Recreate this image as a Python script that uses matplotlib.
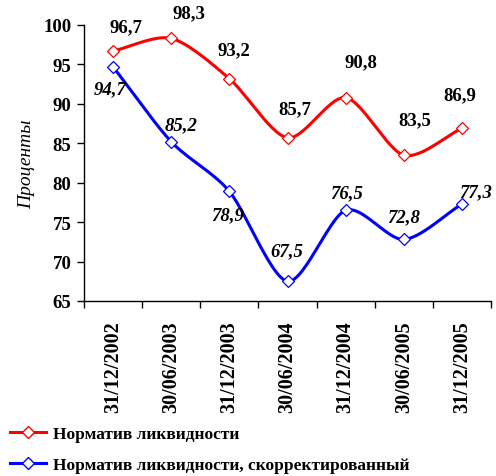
import numpy as np
import matplotlib
matplotlib.use("Agg")
import matplotlib.pyplot as plt
from matplotlib.lines import Line2D

# Data
dates = ["31/12/2002", "30/06/2003", "31/12/2003", "30/06/2004",
         "31/12/2004", "30/06/2005", "31/12/2005"]
norm = [96.7, 98.3, 93.2, 85.7, 90.8, 83.5, 86.9]
norm_adj = [94.7, 85.2, 78.9, 67.5, 76.5, 72.8, 77.3]
name_norm = "Норматив ликвидности"
name_adj = "Норматив ликвидности, скорректированный"

# label offsets in pixels (dx, dy)
off_norm = [(13, 24), (18, 26), (5, 29), (7, 29), (15, 36), (11, 35), (-2, 34)]
off_adj = [(-3, -22), (10, 17), (-2, -23), (-1, 31), (1, 18), (0, 23), (14, 12)]

plt.rcParams['font.family'] = ['Liberation Serif', 'DejaVu Serif']


def smooth(xs, ys, n=30, k=0.42):
    # cardinal spline through the points (smoothed line)
    xs = np.asarray(xs, float)
    ys = np.asarray(ys, float)
    px = np.concatenate([[2 * xs[0] - xs[1]], xs, [2 * xs[-1] - xs[-2]]])
    py = np.concatenate([[2 * ys[0] - ys[1]], ys, [2 * ys[-1] - ys[-2]]])
    outx, outy = [], []
    t = np.linspace(0, 1, n)
    h00 = 2 * t ** 3 - 3 * t ** 2 + 1
    h10 = t ** 3 - 2 * t ** 2 + t
    h01 = -2 * t ** 3 + 3 * t ** 2
    h11 = t ** 3 - t ** 2
    for i in range(1, len(px) - 2):
        for p, out in ((px, outx), (py, outy)):
            m1 = k * (p[i + 1] - p[i - 1])
            m2 = k * (p[i + 2] - p[i])
            out.extend(h00 * p[i] + h10 * m1 + h01 * p[i + 1] + h11 * m2)
    return outx, outy


fig = plt.figure(figsize=(4.96, 4.77), dpi=100)
ax = fig.add_axes([84 / 496, 1 - 302 / 477, 407 / 496, 276 / 477])

x = np.arange(len(dates))

for vals, col in ((norm, "#ff0000"), (norm_adj, "#0000ff")):
    sx, sy = smooth(x, vals)
    ax.plot(sx, sy, color=col, lw=2.2, zorder=2)
    ax.plot(x, vals, ls="none", marker="D", ms=6.5, mfc="white", mec=col, mew=0.9, zorder=3)

for xi, v, (dx, dy) in zip(x, norm, off_norm):
    ax.annotate(f"{v:.1f}".replace(".", ","), (xi, v), xytext=(dx, dy),
                textcoords="offset pixels", ha="center", va="center",
                fontsize=13.5, fontweight="bold")
for xi, v, (dx, dy) in zip(x, norm_adj, off_adj):
    ax.annotate(f"{v:.1f}".replace(".", ","), (xi, v), xytext=(dx, dy),
                textcoords="offset pixels", ha="center", va="center",
                fontsize=13.5, fontweight="bold", fontstyle="italic")

ax.set_xlim(-0.5, len(dates) - 0.5)
ax.set_ylim(65, 100)
ax.set_yticks(np.arange(65, 101, 5))
ax.set_yticklabels([str(v) for v in range(65, 101, 5)], fontsize=13.5, fontweight="bold")
ax.set_xticks(np.arange(-0.5, len(dates), 1))
ax.set_xticklabels([])
ax.set_xticks(x, minor=True)
ax.set_xticklabels(dates, minor=True, rotation=90, fontsize=14.5, fontweight="bold")
ax.tick_params(axis="x", which="minor", length=0, pad=14)
ax.tick_params(axis="both", which="major", length=5, width=1, color="black", direction="out")
ax.tick_params(axis="y", pad=4)

for s in ("top", "right"):
    ax.spines[s].set_visible(False)
for s in ("left", "bottom"):
    ax.spines[s].set_linewidth(1)
    ax.spines[s].set_color("black")

ax.set_ylabel("Проценты", fontsize=14, fontstyle="italic", labelpad=6)

handles = [
    Line2D([], [], color="#ff0000", lw=2.2, marker="D", ms=6.5, mfc="white", mec="#ff0000"),
    Line2D([], [], color="#0000ff", lw=2.2, marker="D", ms=6.5, mfc="white", mec="#0000ff"),
]
fig.legend(handles, [name_norm, name_adj], loc="upper left",
           bbox_to_anchor=(10 / 496, 1 - 427 / 477), frameon=False,
           prop={"size": 12.5, "weight": "bold"}, handlelength=2.1,
           handletextpad=0.35, labelspacing=0.85, borderpad=0, borderaxespad=0)

fig.savefig("out.png", dpi=100)
